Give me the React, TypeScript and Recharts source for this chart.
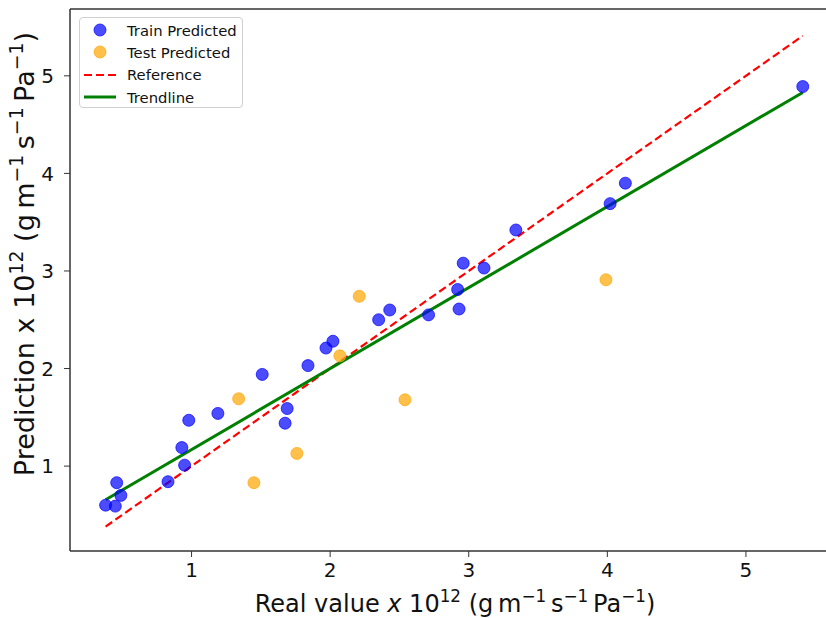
import React from 'react';
import { ComposedChart, Scatter, Line, XAxis, YAxis, ReferenceLine } from 'recharts';

// values (units of 1e-12 g m^-1 s^-1 Pa^-1)
const trainReal = [0.38, 0.45, 0.46, 0.49, 0.83, 0.93, 0.95, 0.98, 1.19, 1.51, 1.675, 1.69, 1.84, 1.97, 2.02, 2.35, 2.43, 2.71, 2.92, 2.93, 2.96, 3.11, 3.34, 4.02, 4.13, 5.41];
const trainPred = [0.6, 0.59, 0.83, 0.7, 0.84, 1.19, 1.01, 1.47, 1.54, 1.94, 1.44, 1.59, 2.03, 2.21, 2.28, 2.5, 2.6, 2.55, 2.81, 2.61, 3.08, 3.03, 3.42, 3.69, 3.9, 4.89];

const testReal = [1.34, 1.45, 1.76, 2.07, 2.21, 2.54, 3.99];
const testPred = [1.69, 0.83, 1.13, 2.13, 2.74, 1.68, 2.91];

const refReal = [0.38, 5.41];
const refPred = [0.38, 5.41];

const trendReal = [0.38, 5.41];
const trendPred = [0.655, 4.83];

const xTicks = [1, 2, 3, 4, 5];
const yTicks = [1, 2, 3, 4, 5];

const xDomain = [0.123, 5.657];
const yDomain = [0.13, 5.685];

const FONT = '"DejaVu Sans", sans-serif';
const AXIS = '#333';
const THIN = '\u2009';

const toRows = (xs: number[], ys: number[]) => xs.map((x, i) => ({ x, y: ys[i] }));

const trainData = toRows(trainReal, trainPred);
const testData = toRows(testReal, testPred);
const refData = toRows(refReal, refPred);
const trendData = toRows(trendReal, trendPred);

const dot = (color: string) => (props: any) => (
  <circle cx={props.cx} cy={props.cy} r={6} fill={color} fillOpacity={0.7} stroke={color} strokeOpacity={0.7} strokeWidth={1} />
);

// mathtext-like unit string: x 10^12 (g m^-1 s^-1 Pa^-1)
function Units({ fs }: { fs: number }) {
  const sup = fs * 0.7;
  const up = -fs * 0.4;
  return (
    <>
      <tspan> 10</tspan>
      <tspan dy={up} fontSize={sup}>12</tspan>
      <tspan dy={-up}> (g{THIN}m</tspan>
      <tspan dy={up} fontSize={sup}>−1</tspan>
      <tspan dy={-up}>{THIN}s</tspan>
      <tspan dy={up} fontSize={sup}>−1</tspan>
      <tspan dy={-up}>{THIN}Pa</tspan>
      <tspan dy={up} fontSize={sup}>−1</tspan>
      <tspan dy={-up}>)</tspan>
    </>
  );
}

const XLabel = () => (
  <text x={455} y={612} textAnchor="middle" fontSize={24} fontFamily={FONT} fill="#111">
    <tspan>Real value </tspan>
    <tspan fontStyle="italic">x</tspan>
    <Units fs={24} />
  </text>
);

const YLabel = () => (
  <text x={34} y={254} transform="rotate(-90 34 254)" textAnchor="middle" fontSize={27} fontFamily={FONT} fill="#111">
    <tspan>Prediction x</tspan>
    <Units fs={27} />
  </text>
);

const legendItems = [
  { name: 'Train Predicted', kind: 'dot', color: '#0000ff' },
  { name: 'Test Predicted', kind: 'dot', color: '#ffa500' },
  { name: 'Reference', kind: 'dash', color: '#ff0000' },
  { name: 'Trendline', kind: 'line', color: '#008000' },
];

function ChartLegend() {
  return (
    <div
      style={{
        position: 'absolute',
        left: 79,
        top: 17,
        width: 164,
        height: 91,
        boxSizing: 'border-box',
        border: '1px solid #d0d0d0',
        borderRadius: 4,
        background: 'rgba(255,255,255,0.8)',
        fontFamily: FONT,
        fontSize: 14.8,
        color: '#111',
        paddingTop: 1,
      }}
    >
      {legendItems.map((it) => (
        <div key={it.name} style={{ display: 'flex', alignItems: 'center', height: 22.3 }}>
          <svg width={44} height={20} style={{ marginLeft: 3, flex: 'none' }}>
            {it.kind === 'dot' && <circle cx={17} cy={10} r={6} fill={it.color} fillOpacity={0.7} stroke={it.color} strokeOpacity={0.7} />}
            {it.kind === 'dash' && <line x1={1} y1={10} x2={33} y2={10} stroke={it.color} strokeWidth={2.2} strokeDasharray="8 4" />}
            {it.kind === 'line' && <line x1={1} y1={10} x2={33} y2={10} stroke={it.color} strokeWidth={3} />}
          </svg>
          <span style={{ whiteSpace: 'nowrap' }}>{it.name}</span>
        </div>
      ))}
    </div>
  );
}

export default function App() {
  return (
    <div style={{ position: 'fixed', left: 0, top: 0, width: 826, height: 618, overflow: 'hidden', background: '#fff' }}>
      <ComposedChart width={900} height={618} margin={{ top: 9, right: 63, bottom: 0, left: 0 }}>
        <XAxis
          type="number"
          dataKey="x"
          domain={xDomain}
          ticks={xTicks}
          allowDataOverflow
          height={67}
          axisLine={{ stroke: AXIS, strokeWidth: 1.5 }}
          tickLine={{ stroke: AXIS, strokeWidth: 1 }}
          tickSize={6}
          tickMargin={6}
          tick={{ fill: '#111', fontSize: 20, fontFamily: FONT }}
          label={<XLabel />}
        />
        <YAxis
          type="number"
          dataKey="y"
          domain={yDomain}
          ticks={yTicks}
          allowDataOverflow
          width={70}
          axisLine={{ stroke: AXIS, strokeWidth: 1.5 }}
          tickLine={{ stroke: AXIS, strokeWidth: 1 }}
          tickSize={6}
          tickMargin={10}
          tick={{ fill: '#111', fontSize: 20, fontFamily: FONT }}
          label={<YLabel />}
        />
        <ReferenceLine y={yDomain[1]} stroke={AXIS} strokeWidth={1.5} />
        <Line data={refData} dataKey="y" type="linear" stroke="#ff0000" strokeWidth={2.2} strokeDasharray="8 4" dot={false} activeDot={false} isAnimationActive={false} />
        <Line data={trendData} dataKey="y" type="linear" stroke="#008000" strokeWidth={3} dot={false} activeDot={false} isAnimationActive={false} />
        <Scatter data={trainData} dataKey="y" shape={dot('#0000ff')} isAnimationActive={false} />
        <Scatter data={testData} dataKey="y" shape={dot('#ffa500')} isAnimationActive={false} />
      </ComposedChart>
      <ChartLegend />
    </div>
  );
}
